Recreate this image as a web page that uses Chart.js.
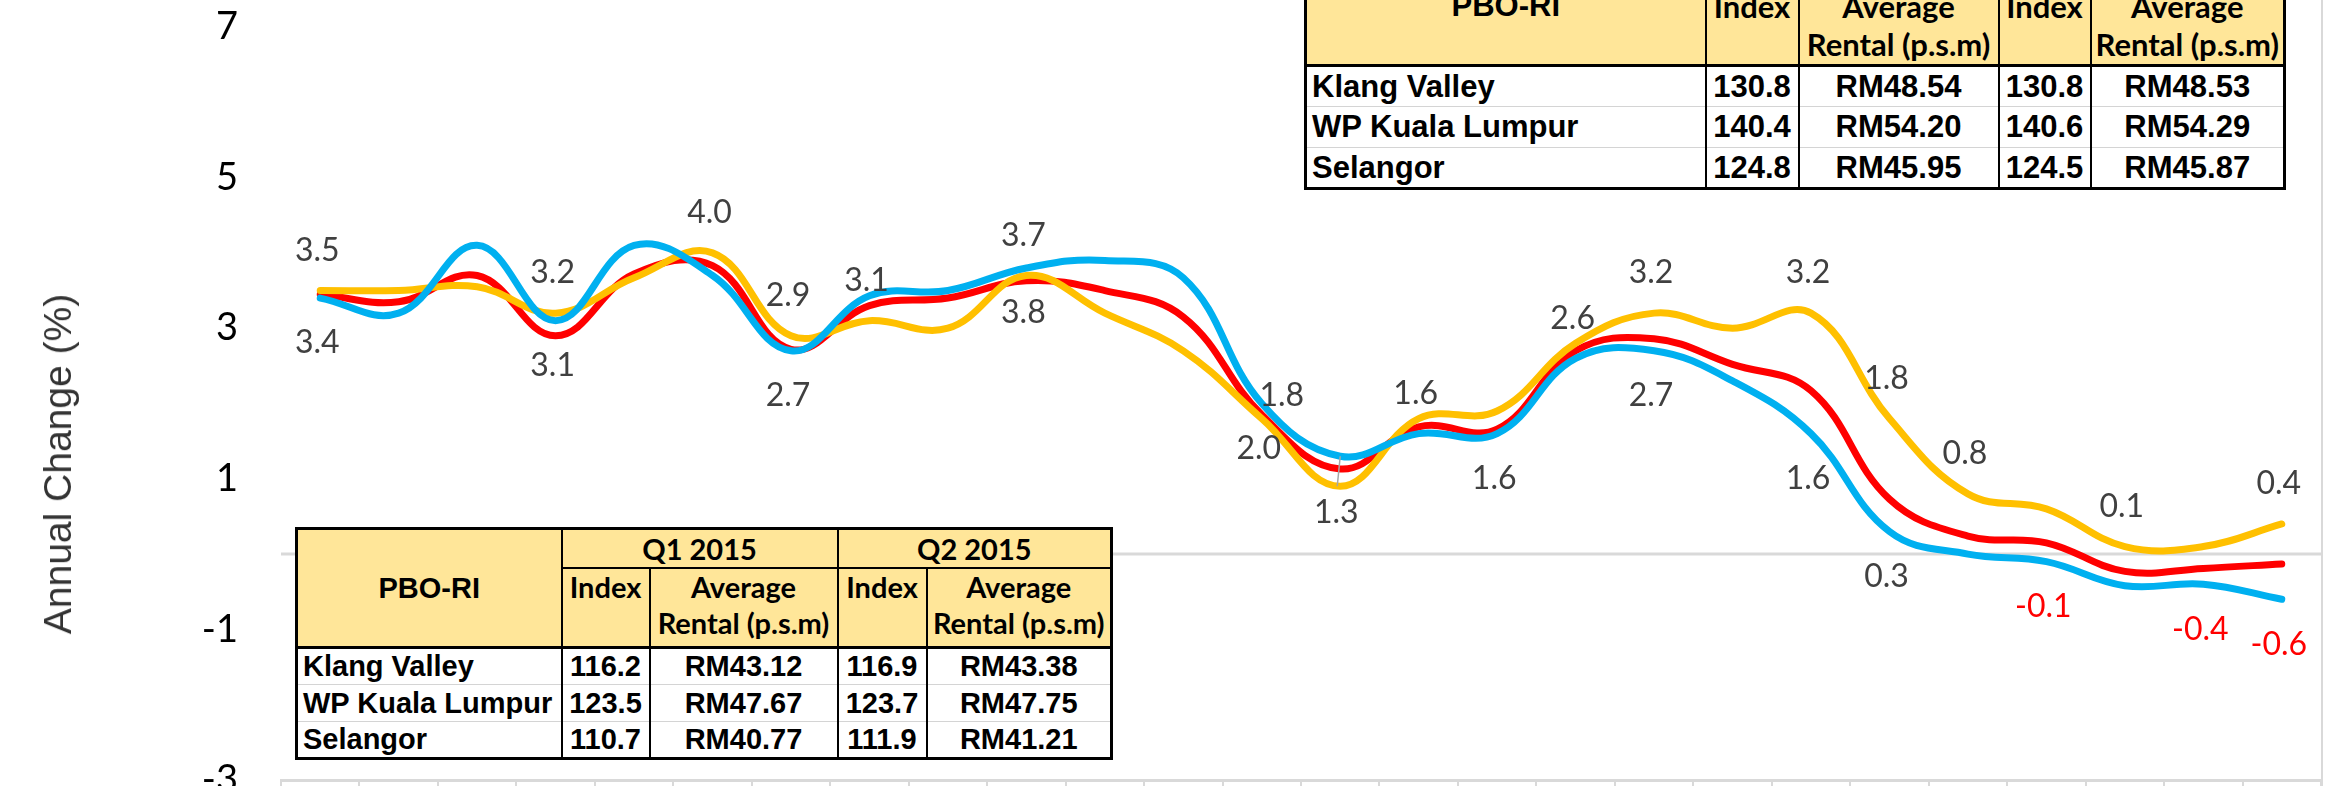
<!DOCTYPE html>
<html>
<head>
<meta charset="utf-8">
<script src="https://cdn.jsdelivr.net/npm/chart.js@4.4.1/dist/chart.umd.min.js"></script>
<style>
  html, body { margin: 0; padding: 0; background: #fff; overflow: hidden; }
  #wrap { position: relative; width: 2330px; height: 860px; }
  #chart { position: absolute; left: 0; top: 0; }
  .ytitle {
    position: absolute; left: 58px; top: 464px;
    transform: translate(-50%, -50%) rotate(-90deg);
    font: 39px "Liberation Sans", Arial, sans-serif; color: #333; white-space: nowrap;
  }
  table.pbo { position: absolute; border-collapse: collapse; table-layout: fixed; background: #fff; border: 3px solid #000; }
  table.pbo td { padding: 0; overflow: hidden; white-space: nowrap; text-align: center; color: #000; }
  table.pbo .hd td { background: #FFE699; border: 2px solid #000; font-family: Lato, sans-serif; font-weight: bold; }
  table.pbo .hd td.corner { font-family: "Liberation Sans", Arial, sans-serif; }
  table.pbo .hd td.sub { vertical-align: top; }
  table.pbo tbody td {
    font-family: "Liberation Sans", Arial, sans-serif; font-weight: bold;
    border-left: 2px solid #000; border-right: 2px solid #000;
    border-top: 1px solid #d4d4d4; border-bottom: 1px solid #d4d4d4;
  }
  table.pbo tbody tr:first-child td { border-top: 3px solid #000; }
  table.pbo tbody tr:last-child td { border-bottom: 3px solid #000; }
  table.pbo tbody td.name { text-align: left; padding-left: 5px; }
</style>
</head>
<body>
<div id="wrap">
  <canvas id="chart" width="2330" height="860" style="width:2330px;height:860px"></canvas>
  <div class="ytitle">Annual Change (%)</div>
  <table class="pbo" id="tblTop"></table>
  <table class="pbo" id="tblBottom"></table>
</div>
<script>
// quarters on the category axis (labels are cropped out of the picture)
const quarters = ['Q1 2013','Q2 2013','Q3 2013','Q4 2013','Q1 2014','Q2 2014','Q3 2014','Q4 2014',
  'Q1 2015','Q2 2015','Q3 2015','Q4 2015','Q1 2016','Q2 2016','Q3 2016','Q4 2016',
  'Q1 2017','Q2 2017','Q3 2017','Q4 2017','Q1 2018','Q2 2018','Q3 2018','Q4 2018',
  'Q1 2019','Q2 2019'];

// annual change (%)
const klangValley = [3.45, 3.35, 3.7, 2.9, 3.72, 3.83, 2.72, 3.3, 3.4, 3.63, 3.5, 3.15, 1.85, 1.13, 1.69, 1.66, 2.7, 2.86, 2.52, 2.17, 0.73, 0.24, 0.15, -0.23, -0.19, -0.13];
const wpKualaLumpur = [3.5, 3.5, 3.55, 3.2, 3.67, 4.0, 2.9, 3.1, 3.0, 3.7, 3.2, 2.7, 1.8, 0.9, 1.8, 1.9, 2.8, 3.2, 3.0, 3.2, 1.8, 0.8, 0.6, 0.1, 0.1, 0.4];
const selangor = [3.4, 3.2, 4.1, 3.1, 4.1, 3.7, 2.7, 3.43, 3.5, 3.8, 3.9, 3.67, 2.0, 1.3, 1.6, 1.6, 2.6, 2.7, 2.3, 1.6, 0.3, 0.0, -0.1, -0.42, -0.4, -0.6];

// which points carry a value label
const wpklLabelIdx = [0, 3, 5, 6, 7, 9, 12, 17, 19, 20, 21, 23, 25];
const selangorLabelIdx = [0, 3, 6, 9, 12, 13, 14, 15, 16, 17, 19, 20, 22, 24, 25];

// y axis ticks
const yMin = -3, yMax = 7, yStep = 2;

// tables
const regions = ['Klang Valley', 'WP Kuala Lumpur', 'Selangor'];
const q1_2015Index = ['116.2', '123.5', '110.7'];
const q1_2015Rent = ['RM43.12', 'RM47.67', 'RM40.77'];
const q2_2015Index = ['116.9', '123.7', '111.9'];
const q2_2015Rent = ['RM43.38', 'RM47.75', 'RM41.21'];
const latestAIndex = ['130.8', '140.4', '124.8'];
const latestARent = ['RM48.54', 'RM54.20', 'RM45.95'];
const latestBIndex = ['130.8', '140.6', '124.5'];
const latestBRent = ['RM48.53', 'RM54.29', 'RM45.87'];

function buildTable(el, opt){
  const cols = opt.cols.map(w => `<col style="width:${w}px">`).join('');
  let html = `<colgroup>${cols}</colgroup>`;
  html += `<tr class="hd" style="height:${opt.rows[0]}px;font-size:${opt.hfs}px">
    <td class="corner" rowspan="2" style="font-size:${opt.fs}px">PBO-RI</td>
    <td colspan="2">${opt.qa}</td><td colspan="2">${opt.qb}</td></tr>`;
  const sub = `<td class="sub" style="line-height:${opt.lh}px">Index</td><td class="sub" style="line-height:${opt.lh}px">Average<br>Rental (p.s.m)</td>`;
  html += `<tr class="hd" style="height:${opt.rows[1]}px;font-size:${opt.hfs}px">${sub}${sub}</tr><tbody>`;
  regions.forEach((r, i) => {
    html += `<tr style="height:${opt.rows[2]}px;font-size:${opt.fs}px"><td class="name">${r}</td>
      <td>${opt.a[i]}</td><td>${opt.b[i]}</td><td>${opt.c[i]}</td><td>${opt.d[i]}</td></tr>`;
  });
  html += '</tbody>';
  el.innerHTML = html;
  el.style.left = opt.left + 'px';
  el.style.top = opt.top + 'px';
}

buildTable(document.getElementById('tblBottom'), {
  left: 295, top: 527, cols: [265, 88, 188, 89, 185], rows: [39, 80, 37],
  fs: 29, hfs: 29, lh: 36, qa: 'Q1 2015', qb: 'Q2 2015',
  a: q1_2015Index, b: q1_2015Rent, c: q2_2015Index, d: q2_2015Rent
});
buildTable(document.getElementById('tblTop'), {
  left: 1304, top: -56, cols: [400, 93, 200, 92, 194], rows: [40, 80, 41],
  fs: 31, hfs: 31, lh: 38, qa: '', qb: '',
  a: latestAIndex, b: latestARent, c: latestBIndex, d: latestBRent
});

const labelOffsets = { above: [-3, -40], below: [-3, 45], right: [20, -23], leader: [-4, 56] };

const refLines = {
  id: 'refLines',
  beforeDatasetsDraw(chart){
    const {ctx, chartArea, scales} = chart;
    const y0 = scales.y.getPixelForValue(0);
    ctx.save();
    ctx.strokeStyle = '#d9d9d9';
    ctx.lineWidth = 3;
    ctx.beginPath(); ctx.moveTo(chartArea.left, y0); ctx.lineTo(chartArea.right, y0); ctx.stroke();
    ctx.lineWidth = 2;
    ctx.beginPath(); ctx.moveTo(chartArea.right + 1, 0); ctx.lineTo(chartArea.right + 1, chart.height); ctx.stroke();
    ctx.restore();
  }
};

const pointLabels = {
  id: 'pointLabels',
  afterDatasetsDraw(chart){
    const ctx = chart.ctx;
    ctx.save();
    ctx.font = '32px Lato';
    ctx.textAlign = 'center';
    ctx.textBaseline = 'middle';
    chart.data.datasets.forEach((ds, di) => {
      if(!ds.labelAt) return;
      const meta = chart.getDatasetMeta(di);
      ds.labelAt.forEach(i => {
        const pt = meta.data[i];
        const v = ds.data[i];
        const place = (ds.labelPlace && ds.labelPlace[i]) || ds.labelSide;
        const off = labelOffsets[place];
        if(place === 'leader'){
          ctx.strokeStyle = '#a6a6a6';
          ctx.lineWidth = 1.5;
          ctx.beginPath(); ctx.moveTo(pt.x, pt.y); ctx.lineTo(pt.x - 3, pt.y + 30); ctx.stroke();
        }
        ctx.fillStyle = v < 0 ? '#FF0000' : '#404040';
        ctx.fillText(v.toFixed(1), pt.x + off[0], pt.y + off[1]);
      });
    });
    ctx.restore();
  }
};

function draw(){
  const ctx = document.getElementById('chart').getContext('2d');
  new Chart(ctx, {
    type: 'line',
    data: { labels: quarters, datasets: [
      { label: 'Selangor', data: selangor, borderColor: '#00B0F0', order: 0,
        labelAt: selangorLabelIdx, labelSide: 'below', labelPlace: {13: 'leader', 14: 'above', 16: 'above'} },
      { label: 'WP Kuala Lumpur', data: wpKualaLumpur, borderColor: '#FFC000', order: 1,
        labelAt: wpklLabelIdx, labelSide: 'above', labelPlace: {12: 'right'} },
      { label: 'Klang Valley', data: klangValley, borderColor: '#FF0000', order: 2 }
    ]},
    options: {
      responsive: false,
      animation: false,
      layout: { padding: { top: 27, right: 9, left: 0, bottom: 0 } },
      elements: {
        line: { borderWidth: 7, tension: 0.4, fill: false, borderCapStyle: 'round', borderJoinStyle: 'round' },
        point: { radius: 0, hoverRadius: 0 }
      },
      plugins: { legend: { display: false }, tooltip: { enabled: false } },
      scales: {
        x: {
          offset: true,
          ticks: { display: false },
          grid: { offset: true, drawOnChartArea: false, drawTicks: true, tickLength: 10, color: '#d9d9d9', lineWidth: 2 },
          border: { color: '#d9d9d9', width: 3 },
          afterFit: s => { s.height = 80; }
        },
        y: {
          min: yMin, max: yMax,
          ticks: { stepSize: yStep, padding: 0, color: '#000', font: { family: 'Lato', size: 38 } },
          // invisible tick marks only to keep the labels away from the plot
          grid: { display: true, drawOnChartArea: false, drawTicks: true, tickLength: 43, color: 'rgba(0,0,0,0)' },
          border: { display: false },
          afterFit: s => { s.width = 281; }
        }
      }
    },
    plugins: [refLines, pointLabels]
  });
}

Promise.all([document.fonts.load('32px Lato'), document.fonts.load('bold 28px Lato')])
  .then(draw, draw);
</script>
</body>
</html>
